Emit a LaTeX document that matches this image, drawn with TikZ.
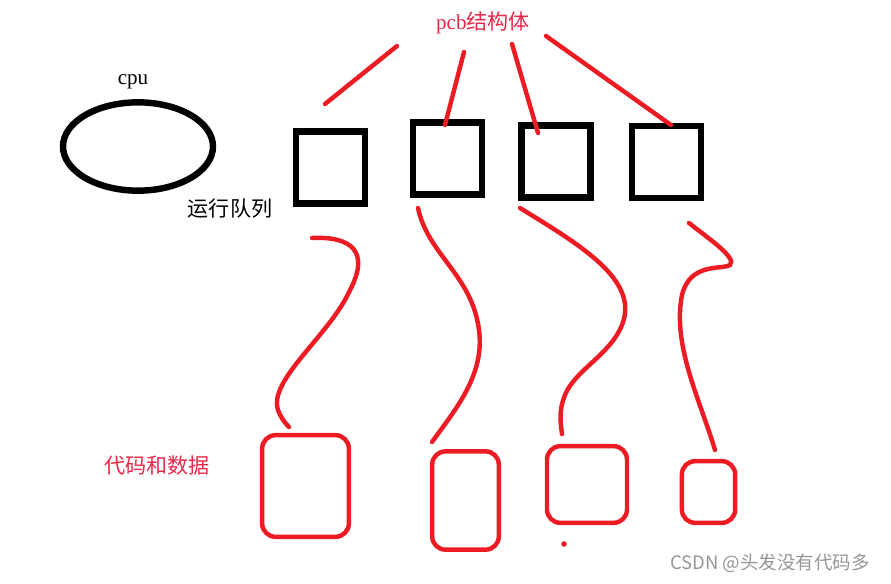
\documentclass[tikz,border=0pt]{standalone}
\usepackage{fontspec}
\setmainfont{Liberation Serif}
\newfontfamily\cjk{Noto Sans CJK SC}
\usepackage{xcolor}
\usetikzlibrary{positioning,shapes.geometric}

\definecolor{penred}{RGB}{237,28,36}
\definecolor{txtred}{RGB}{232,40,72}
\definecolor{markgray}{RGB}{150,150,150}

\begin{document}
\begin{tikzpicture}[
    x=0.03cm, y=-0.03cm,
    queue/.style={rectangle,draw=black,line width=5.5pt,inner sep=0pt,
                  minimum width=2.07cm,minimum height=2.16cm},
    mem/.style={rectangle,draw=penred,line width=3.8pt,rounded corners=0.4cm,inner sep=0pt},
    pen/.style={penred,line width=3.8pt,line cap=round},
    lbl/.style={inner sep=0pt,font=\fontsize{18pt}{21pt}\selectfont}]
  \useasboundingbox (0,0) rectangle (891,583);

  % ---- cpu ----
  \node[ellipse,draw=black,line width=5.5pt,minimum width=4.5cm,minimum height=2.65cm,inner sep=0pt]
    (cpu) at (138,146.5) {};
  \node[lbl] (cpulbl) at (133,82) {cpu};

  % ---- run queue ----
  \node[queue] (q1) at (330.5,167.5) {};
  \node[queue] (q2) at (447.5,158.5) {};
  \node[queue] (q3) at (556,161.5) {};
  \node[queue] (q4) at (666.5,162) {};
  \node[lbl] (runq) at (230,209) {\cjk 运行队列};

  % ---- pcb ----
  \node[lbl,text=txtred] (pcb) at (483,23) {pcb\cjk 结构体};
  \coordinate (p1) at (397,46);  \coordinate (e1) at (325,104);
  \coordinate (p2) at (464,52);  \coordinate (e2) at (445,125);
  \coordinate (p3) at (512,44);  \coordinate (e3) at (538,133);
  \coordinate (p4) at (546,36);  \coordinate (e4) at (671,125);
  \foreach \i in {1,...,4}
    \draw[pen] (p\i) -- (e\i);

  % ---- code and data ----
  \node[mem,minimum width=2.6cm,minimum height=3.05cm] (m1) at (305.5,486) {};
  \node[mem,minimum width=2.0cm,minimum height=2.95cm] (m2) at (465.5,500.5) {};
  \node[mem,minimum width=2.4cm,minimum height=2.3cm] (m3) at (587,484.5) {};
  \node[mem,minimum width=1.6cm,minimum height=1.85cm] (m4) at (708.5,492) {};
  \node[lbl,text=txtred] (code) at (157,465) {\cjk 代码和数据};
  \fill[penred] (564,544) circle (2.8);

  % ---- links from queue to memory ----
  \coordinate (s1) at (312,238);  \coordinate (t1) at (289,427);
  \coordinate (s2) at (418,208);  \coordinate (t2) at (432,442);
  \coordinate (s3) at (520,208);  \coordinate (t3) at (562,434);
  \coordinate (s4) at (689,223);  \coordinate (t4) at (715,450);
  \draw[pen] (s1) .. controls (352,236) and (370,252) .. (350,290)
    .. controls (330,335) and (268,380) .. (278,410) .. controls (281,418) and (285,423) .. (t1);
  \draw[pen] (s2) .. controls (428,255) and (472,275) .. (479,330)
    .. controls (485,375) and (455,410) .. (t2);
  \draw[pen] (s3) .. controls (580,245) and (640,280) .. (622,325)
    .. controls (610,355) and (575,370) .. (565,395) .. controls (558,412) and (561,425) .. (t3);
  \draw[pen] (s4) .. controls (705,236) and (738,258) .. (730,265)
    .. controls (722,270) and (690,262) .. (682,295) .. controls (672,345) and (700,400) .. (t4);

  % ---- watermark ----
  \node[inner sep=0pt,text=markgray,font=\cjk\fontsize{15.8pt}{18pt}\selectfont] (mark) at (770,563)
    {CSDN @头发没有代码多};
\end{tikzpicture}
\end{document}
